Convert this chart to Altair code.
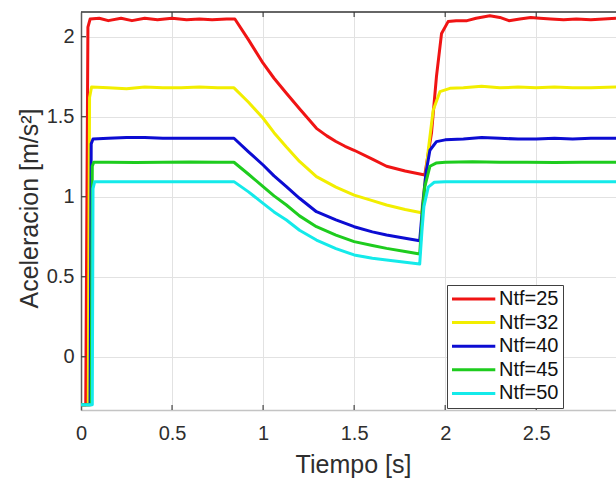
import altair as alt
import pandas as pd

# ---------------- data ----------------
series_names = ["Ntf=25", "Ntf=32", "Ntf=40", "Ntf=45", "Ntf=50"]
series_colors = ["#f01414", "#f2ee00", "#0c0cd2", "#1ecc1e", "#14eaea"]

t_25 = [0, 0.026, 0.038, 0.05, 0.1, 0.15, 0.22, 0.28, 0.35, 0.42, 0.5, 0.58, 0.65, 0.72,
        0.8, 0.845, 0.92, 1.0, 1.06, 1.128, 1.2, 1.293, 1.35, 1.4, 1.45, 1.5, 1.6, 1.678,
        1.78, 1.888, 1.925, 1.952, 1.98, 2.016, 2.06, 2.12, 2.17, 2.245, 2.3, 2.35, 2.41,
        2.47, 2.52, 2.58, 2.65, 2.72, 2.8, 2.87, 2.938]
v_25 = [-0.3, -0.3, 2.06, 2.11, 2.115, 2.10, 2.115, 2.10, 2.115, 2.105, 2.115, 2.105, 2.11,
        2.105, 2.11, 2.11, 1.98, 1.834, 1.74, 1.646, 1.55, 1.427, 1.38, 1.345, 1.315, 1.29,
        1.235, 1.19, 1.16, 1.136, 1.40, 1.75, 2.02, 2.094, 2.10, 2.10, 2.115, 2.13, 2.12,
        2.10, 2.11, 2.12, 2.115, 2.11, 2.105, 2.11, 2.105, 2.11, 2.115]

t_32 = [0, 0.04, 0.047, 0.058, 0.15, 0.25, 0.35, 0.45, 0.55, 0.65, 0.75, 0.84, 0.92, 1.0,
        1.06, 1.128, 1.2, 1.293, 1.4, 1.5, 1.6, 1.678, 1.78, 1.87, 1.89, 1.907, 1.934, 1.971,
        2.026, 2.1, 2.2, 2.3, 2.4, 2.5, 2.6, 2.7, 2.8, 2.938]
v_32 = [-0.3, -0.3, 1.62, 1.685, 1.68, 1.675, 1.685, 1.68, 1.68, 1.685, 1.68, 1.68, 1.59,
        1.49, 1.40, 1.31, 1.22, 1.125, 1.06, 1.01, 0.975, 0.948, 0.92, 0.90, 1.10, 1.29,
        1.54, 1.656, 1.677, 1.68, 1.69, 1.68, 1.685, 1.68, 1.685, 1.68, 1.68, 1.685]

t_40 = [0, 0.05, 0.056, 0.066, 0.15, 0.25, 0.35, 0.45, 0.55, 0.65, 0.75, 0.84, 0.92, 1.0,
        1.06, 1.128, 1.2, 1.293, 1.4, 1.5, 1.6, 1.678, 1.78, 1.86, 1.877, 1.894, 1.916,
        1.952, 2.0, 2.1, 2.2, 2.3, 2.4, 2.5, 2.6, 2.7, 2.8, 2.938]
v_40 = [-0.3, -0.3, 1.33, 1.36, 1.365, 1.37, 1.37, 1.365, 1.365, 1.365, 1.365, 1.365, 1.28,
        1.198, 1.13, 1.0625, 0.99, 0.906, 0.855, 0.8125, 0.78, 0.76, 0.74, 0.725, 0.95,
        1.146, 1.29, 1.344, 1.355, 1.36, 1.37, 1.365, 1.36, 1.36, 1.365, 1.36, 1.365, 1.365]

t_45 = [0, 0.056, 0.062, 0.07, 0.15, 0.3, 0.45, 0.6, 0.75, 0.84, 0.92, 1.0, 1.06, 1.128,
        1.2, 1.293, 1.4, 1.5, 1.6, 1.678, 1.78, 1.86, 1.874, 1.888, 1.916, 1.95, 2.0, 2.15,
        2.3, 2.45, 2.6, 2.75, 2.938]
v_45 = [-0.3, -0.3, 1.19, 1.215, 1.215, 1.213, 1.215, 1.217, 1.215, 1.215, 1.14, 1.063,
        1.005, 0.948, 0.88, 0.8125, 0.76, 0.719, 0.695, 0.677, 0.658, 0.642, 0.88, 1.0625,
        1.19, 1.21, 1.215, 1.218, 1.215, 1.215, 1.213, 1.215, 1.215]

t_50 = [0, 0.062, 0.066, 0.075, 0.2, 0.35, 0.5, 0.65, 0.84, 0.92, 1.0, 1.06, 1.128, 1.2,
        1.293, 1.4, 1.5, 1.6, 1.678, 1.78, 1.86, 1.872, 1.883, 1.907, 1.94, 2.0, 2.2, 2.4,
        2.6, 2.8, 2.938]
v_50 = [-0.3, -0.3, 1.05, 1.094, 1.094, 1.094, 1.094, 1.094, 1.094, 1.03, 0.958, 0.905,
        0.854, 0.79, 0.729, 0.675, 0.636, 0.615, 0.604, 0.59, 0.579, 0.78, 0.9375, 1.06,
        1.09, 1.094, 1.094, 1.094, 1.094, 1.094, 1.094]

x_ticks = [0, 0.5, 1, 1.5, 2, 2.5]
y_ticks = [0, 0.5, 1, 1.5, 2]
x_domain = [0, 2.938]
y_domain = [-0.333, 2.154]

# ---------------- build table ----------------
rows = []
for name, ts, vs in zip(series_names, [t_25, t_32, t_40, t_45, t_50],
                        [v_25, v_32, v_40, v_45, v_50]):
    for t, v in zip(ts, vs):
        rows.append({"t": t, "v": v, "serie": name})
df = pd.DataFrame(rows)

W, H = 535, 398
FONT = "Liberation Sans"
TXT = "#2e2e2e"

xscale = alt.Scale(domain=x_domain, nice=False, zero=False)
yscale = alt.Scale(domain=y_domain, nice=False, zero=False)

x_axis = alt.Axis(values=x_ticks, format="~g", title="Tiempo [s]",
                  ticks=False, tickSize=0, labelFontSize=20, labelPadding=13,
                  labelFont=FONT, labelColor=TXT, labelFlush=False,
                  domainColor="#c4c4c4", domainWidth=1.5,
                  grid=True, gridColor="#e2e2e2", gridWidth=1,
                  titleFont=FONT, titleFontSize=25, titleFontWeight="normal",
                  titleColor=TXT, titleX=272, titleY=62,
                  titleAlign="center", titleBaseline="alphabetic")
y_axis = alt.Axis(values=y_ticks, format="~g", title="Aceleracion [m/s²]",
                  ticks=False, tickSize=0, labelFontSize=20, labelPadding=7,
                  labelFont=FONT, labelColor=TXT,
                  domainColor="#5a5a5a", domainWidth=1.5,
                  grid=True, gridColor="#e2e2e2", gridWidth=1,
                  titleFont=FONT, titleFontSize=25, titleFontWeight="normal",
                  titleColor=TXT, titleX=-44, titleY=196, titleAngle=270,
                  titleAlign="center", titleBaseline="alphabetic")

lines = alt.Chart(df).mark_line(strokeWidth=3, strokeJoin="round", clip=True).encode(
    x=alt.X("t:Q", scale=xscale, axis=x_axis),
    y=alt.Y("v:Q", scale=yscale, axis=y_axis),
    color=alt.Color("serie:N",
                    scale=alt.Scale(domain=series_names, range=series_colors),
                    legend=alt.Legend(title=None, orient="none", legendX=366, legendY=273,
                                      direction="vertical",
                                      symbolType="M-1.8,0H6.86", symbolSize=100,
                                      symbolStrokeWidth=3, labelFontSize=20,
                                      labelFont=FONT, labelColor="#111111",
                                      labelOffset=28, rowPadding=3.6, padding=4,
                                      strokeColor="#404040", fillColor="white",
                                      cornerRadius=0)),
)

top_border = alt.Chart(pd.DataFrame({"k": [0]})).mark_rule(
    color="#333333", strokeWidth=1.5).encode(
    x=alt.value(0), x2=alt.value(W), y=alt.value(0))

xt = pd.DataFrame({"t": x_ticks[1:]})
yt = pd.DataFrame({"v": y_ticks})

bottom_ticks = alt.Chart(xt).mark_rule(color="#444444", strokeWidth=1.2).encode(
    x=alt.X("t:Q", scale=xscale, axis=x_axis), y=alt.value(H), y2=alt.value(H - 5))
top_ticks = alt.Chart(xt).mark_rule(color="#444444", strokeWidth=1.2).encode(
    x=alt.X("t:Q", scale=xscale, axis=x_axis), y=alt.value(0), y2=alt.value(5))
left_ticks = alt.Chart(yt).mark_rule(color="#444444", strokeWidth=1.2).encode(
    y=alt.Y("v:Q", scale=yscale, axis=y_axis), x=alt.value(0), x2=alt.value(5))

chart = alt.layer(lines, bottom_ticks, top_ticks, left_ticks, top_border).properties(
    width=W, height=H,
    padding={"left": 81, "top": 12, "right": 0, "bottom": 70},
    autosize=alt.AutoSizeParams(type="none"),
    background="white",
).configure_view(strokeWidth=0)

chart.save("out.html", embed_options={"renderer": "svg", "actions": False})
